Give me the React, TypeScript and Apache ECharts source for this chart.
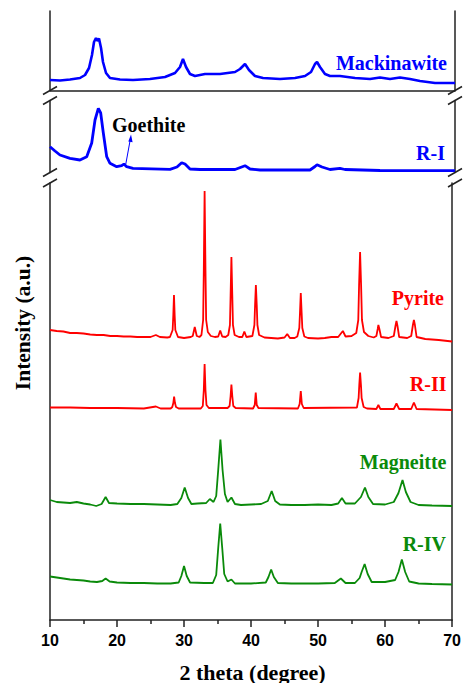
import React, { useEffect, useRef } from "react";
import * as echarts from "echarts";

// ---- data (2 theta in degrees, intensity in arbitrary units, per panel) ----
const mackinawite: [number, number][] = [
  [10, 10.5], [11.48, 10], [12.96, 11], [14.44, 12.5], [15.19, 15.5], [15.78, 22.5], [16.22, 35.5],
  [16.52, 48.5], [16.81, 52.5], [17.04, 49.5], [17.26, 52], [17.56, 42.5], [17.85, 28.5], [18.3, 17.5],
  [18.89, 12.5], [20.37, 11], [22.3, 10.5], [24.81, 11.5], [27.04, 13.5], [28.52, 17.5], [29.26, 23.5],
  [29.7, 31.5], [30.15, 23.5], [30.74, 16.5], [31.48, 14.5], [32.96, 16.5], [35.19, 16.5], [37.41, 18.5],
  [38.15, 21.5], [38.89, 26.5], [39.48, 20.5], [40.37, 14.5], [41.56, 12.5], [44.07, 11.5], [46.3, 12.5],
  [47.78, 14.5], [48.67, 18.5], [49.26, 26.5], [49.56, 28.5], [50.0, 23.5], [50.74, 16.5], [51.48, 14.5],
  [52.96, 14.5], [55.19, 12.5], [57.41, 11.5], [58.89, 13], [60.37, 11.5], [61.85, 13], [63.33, 11.5],
  [64.81, 9.5], [67.04, 7.5], [70, 7.5],
];

const rI: [number, number][] = [
  [10, 25.8], [10.74, 21.5], [11.48, 17.5], [12.96, 14.2], [14.44, 12.5], [15.44, 15.8], [16.18, 29.5],
  [16.67, 52.5], [17.16, 64.2], [17.51, 59.5], [17.9, 39.5], [18.4, 15.8], [18.89, 9.2], [19.88, 5.8],
  [20.62, 6.8], [20.96, 8.5], [21.36, 5.8], [22.3, 4.2], [27.78, 3.2], [28.81, 5.5], [29.51, 9.8],
  [30.0, 8.5], [30.74, 3.5], [32.22, 3], [37.41, 3], [38.89, 6.8], [39.63, 3.5], [41.11, 2.5],
  [48.52, 2.5], [49.26, 6], [49.56, 7.8], [50.3, 5.5], [51.48, 3], [52.96, 4.2], [53.7, 3],
  [58.89, 2], [70, 1.8],
];

const pyrite: [number, number][] = [
  [10, 290], [11, 289], [12, 288.5], [13, 287], [14, 287], [15, 286.5], [16, 285.5], [17, 285], [18, 285],
  [19, 284], [20, 284], [21, 283.5], [22, 283.5], [23, 283], [24, 283], [25, 283], [25.8, 285], [26.4, 283],
  [27.5, 282.5], [27.9, 283], [28.3, 290], [28.4, 305], [28.5, 325], [28.6, 305], [28.7, 290], [29.1, 283],
  [30, 282], [31, 283], [31.3, 284], [31.6, 293], [31.9, 284], [32.3, 283],
  [32.6, 285], [32.85, 300], [32.95, 350], [33.07, 429], [33.2, 350], [33.3, 300], [33.55, 288], [34, 284],
  [34.6, 283], [35.1, 283.5], [35.4, 289.5], [35.7, 283.5], [36.2, 283],
  [36.6, 285], [36.85, 295], [36.95, 325], [37.07, 363], [37.2, 325], [37.3, 295], [37.55, 285], [38.2, 283],
  [38.7, 283], [39.0, 288.5], [39.3, 283],
  [40.2, 284], [40.5, 295], [40.6, 315], [40.72, 335], [40.85, 315], [40.95, 295], [41.2, 285], [42, 282.5],
  [43, 282], [44, 281.5], [45, 282.5], [45.4, 286], [45.8, 282], [46.5, 282],
  [46.9, 283.5], [47.2, 292], [47.3, 307], [47.42, 327], [47.55, 307], [47.65, 292], [47.95, 283.5], [48.5, 282],
  [50, 281.5], [51, 282], [52, 283], [53, 283], [53.7, 289], [54.1, 283.5], [55, 284],
  [55.7, 287], [56.0, 300], [56.12, 335], [56.27, 368], [56.42, 335], [56.55, 300], [56.85, 288], [57.5, 284],
  [58.3, 282.5], [58.7, 284], [58.9, 291], [59.0, 295], [59.15, 291], [59.4, 283], [60.5, 282],
  [61.3, 284], [61.55, 294], [61.7, 299], [61.85, 294], [62.1, 283], [63.3, 282],
  [63.9, 284], [64.15, 295], [64.3, 300], [64.45, 295], [64.7, 283], [66, 281], [68, 280], [70, 278.5],
];

const rII: [number, number][] = [
  [10, 212.5], [13, 212.5], [16, 212], [20, 212], [24, 211.5], [25.8, 213.5], [26.5, 211.5], [28, 211.5],
  [28.25, 213], [28.4, 217], [28.52, 223.5], [28.65, 217], [28.8, 213], [29.2, 211.5],
  [32.5, 211.5], [32.8, 214], [32.95, 230], [33.07, 256], [33.2, 230], [33.35, 215], [33.7, 212],
  [36.5, 212], [36.8, 214], [36.95, 224], [37.07, 235.5], [37.2, 224], [37.35, 214], [37.7, 212],
  [40.3, 211.5], [40.55, 215], [40.7, 227.5], [40.85, 215], [41.1, 212],
  [47.0, 211.5], [47.25, 216], [47.42, 229], [47.58, 216], [47.85, 212],
  [55.8, 212.5], [56.05, 222], [56.15, 235], [56.27, 247.5], [56.4, 235], [56.5, 222], [56.8, 213], [57.3, 211.5],
  [58.7, 211], [59.0, 215], [59.3, 211], [61.3, 211], [61.7, 216.5], [62.1, 211],
  [63.9, 211], [64.3, 217.5], [64.7, 211], [70, 210],
];

const magneitte: [number, number][] = [
  [10, 120], [11, 118], [12, 117.5], [13, 117], [14, 118], [15, 116.5], [16, 115.5], [16.9, 114], [17.7, 116],
  [18.3, 123], [18.8, 117], [20, 116.5], [22, 116], [24, 116], [26, 115.5], [28, 115], [29, 116], [29.6, 122],
  [30.1, 132.5], [30.6, 122], [31.1, 116], [32, 116.5], [33.3, 117], [33.85, 121], [34.4, 118], [34.8, 124],
  [35.1, 150], [35.43, 180.5], [35.75, 150], [36.1, 126], [36.5, 118], [37.07, 122.5], [37.6, 116], [38.5, 115],
  [40, 115.5], [41.5, 116], [42.5, 119], [43.08, 129], [43.6, 119], [44.3, 115.5], [46, 115], [48, 115],
  [50, 115.5], [52, 115], [53.0, 116.5], [53.56, 122], [54.1, 116.5], [55.5, 116.5], [56.4, 123], [57.0, 132.5],
  [57.5, 123], [58.2, 116], [60, 115.5], [61.3, 118], [62.0, 127], [62.6, 140], [63.1, 128], [63.8, 118],
  [65, 115], [67, 114.5], [70, 114],
];

const rIV: [number, number][] = [
  [10, 43.5], [11, 42.5], [12, 41.5], [13, 40.5], [14, 40], [15, 39.5], [16, 38.5], [17, 38], [17.8, 39],
  [18.3, 41.5], [18.9, 38.5], [20, 37.5], [22, 37], [24, 37], [26, 36.5], [28, 36.5], [29.2, 37.5], [29.6, 44],
  [30.0, 54], [30.4, 44], [30.9, 37.5], [33, 37], [34.3, 37], [34.8, 45], [35.1, 72], [35.4, 96.5], [35.7, 72],
  [36.0, 46], [36.5, 38.5], [37.07, 40.5], [37.6, 36.5], [40, 36.5], [42.2, 37.5], [42.6, 43], [43.0, 50.5],
  [43.4, 43], [44, 37], [46, 36.5], [48, 36.5], [50, 36.5], [52.5, 37], [53.4, 41.5], [54.1, 37], [55.5, 37],
  [56.2, 42], [56.5, 48], [56.95, 56], [57.4, 46], [58, 38], [60, 38], [61.5, 40], [62.0, 48], [62.5, 60.5],
  [63.0, 48], [63.6, 38.5], [65, 36.5], [67, 36], [70, 35.5],
];

const xMin = 10;
const xMax = 70;
const xInterval = 10;
const panelMax = [79.5, 72, 437];

const seriesNames = ["Mackinawite", "R-I", "Pyrite", "R-II", "Magneitte", "R-IV"];
const xTitle = "2 theta (degree)";
const yTitle = "Intensity (a.u.)";
const annotation = "Goethite";

const BLUE = "#0000ff";
const RED = "#ff0000";
const GREEN = "#0a8a0a";
const AXIS = "#222";
const SERIF = "'Liberation Serif', 'Times New Roman', serif";
const SANS = "'Liberation Sans', Arial, sans-serif";

function buildOption() {
  const grids = [
    { left: 50, right: 9, top: 11, height: 79.5 },
    { left: 50, right: 9, top: 100.5, height: 72 },
    { left: 50, right: 9, top: 183, height: 437 },
  ];
  const axisLine = { show: true, lineStyle: { color: AXIS, width: 1.5 } };
  const xAxes: any[] = [
    {
      gridIndex: 0, type: "value", min: xMin, max: xMax, position: "top",
      axisLine, axisTick: { show: false }, axisLabel: { show: false }, splitLine: { show: false },
    },
    { gridIndex: 1, type: "value", min: xMin, max: xMax, show: false, splitLine: { show: false } },
    {
      gridIndex: 2, type: "value", min: xMin, max: xMax, interval: xInterval, position: "bottom",
      axisLine,
      axisTick: { show: true, length: 7, lineStyle: { color: AXIS, width: 1.5 } },
      minorTick: { show: true, splitNumber: 2, length: 4, lineStyle: { color: AXIS, width: 1.5 } },
      axisLabel: { show: true, margin: 12, color: "#000", fontFamily: SANS, fontWeight: "bold", fontSize: 16 },
      splitLine: { show: false },
    },
  ];
  const yAxes: any[] = [];
  grids.forEach((_, i) => {
    ["left", "right"].forEach((pos) => {
      yAxes.push({
        gridIndex: i, type: "value", min: 0, max: panelMax[i], position: pos,
        axisLine, axisTick: { show: false }, axisLabel: { show: false }, splitLine: { show: false },
      });
    });
  });

  const mk = (name: string, data: [number, number][], grid: number, color: string, width: number) => ({
    name, type: "line", data, xAxisIndex: grid, yAxisIndex: grid * 2,
    showSymbol: false, symbol: "none", smooth: false,
    lineStyle: { color, width }, itemStyle: { color }, z: 3,
  });

  const series = [
    mk(seriesNames[0], mackinawite, 0, BLUE, 2.6),
    mk(seriesNames[1], rI, 1, BLUE, 2.8),
    mk(seriesNames[2], pyrite, 2, RED, 1.8),
    mk(seriesNames[3], rII, 2, RED, 1.8),
    mk(seriesNames[4], magneitte, 2, GREEN, 1.8),
    mk(seriesNames[5], rIV, 2, GREEN, 1.8),
  ];

  const graphic: any[] = [];
  // axis break marks
  [50, 455].forEach((x) => {
    [90.5, 100.5, 172.5, 183].forEach((y) => {
      graphic.push({
        type: "line", shape: { x1: x - 7, y1: y + 4, x2: x + 7, y2: y - 4 },
        style: { stroke: AXIS, lineWidth: 1.5 }, z: 10,
      });
    });
  });
  const label = (text: string, x: number, y: number, color: string, align = "right") => ({
    type: "text", x, y, z: 10,
    style: { text, fill: color, font: `bold 20px ${SERIF}`, textAlign: align, textVerticalAlign: "middle" },
  });
  graphic.push(label(seriesNames[0], 447, 63, BLUE));
  graphic.push(label(seriesNames[1], 445, 153, BLUE));
  graphic.push(label(seriesNames[2], 444, 298, RED));
  graphic.push(label(seriesNames[3], 446.5, 383.5, RED));
  graphic.push(label(seriesNames[4], 446.5, 462, GREEN));
  graphic.push(label(seriesNames[5], 446, 544, GREEN));
  graphic.push(label(annotation, 112, 125, "#000", "left"));
  // arrow to goethite peak
  graphic.push({
    type: "line", shape: { x1: 125.8, y1: 164, x2: 130.2, y2: 140 },
    style: { stroke: BLUE, lineWidth: 1 }, z: 10,
  });
  graphic.push({
    type: "polygon", shape: { points: [[131, 134.5], [128.3, 141.5], [132.6, 142.2]] },
    style: { fill: BLUE }, z: 10,
  });
  // axis titles
  graphic.push({
    type: "text", x: 252.5, y: 672, z: 10,
    style: { text: xTitle, fill: "#000", font: `bold 22px ${SERIF}`, textAlign: "center", textVerticalAlign: "middle" },
  });
  graphic.push({
    type: "text", x: 23, y: 323, rotation: Math.PI / 2, z: 10,
    style: { text: yTitle, fill: "#000", font: `bold 21.5px ${SERIF}`, textAlign: "center", textVerticalAlign: "middle" },
  });

  return {
    animation: false,
    backgroundColor: "#fff",
    grid: grids,
    xAxis: xAxes,
    yAxis: yAxes,
    series,
    graphic,
  };
}

export default function App() {
  const ref = useRef<HTMLDivElement>(null);
  useEffect(() => {
    document.body.style.margin = "0";
    const chart = echarts.init(ref.current!, null, { renderer: "svg" });
    chart.setOption(buildOption() as any);
    return () => chart.dispose();
  }, []);
  return <div ref={ref} style={{ width: 464, height: 683 }} />;
}
